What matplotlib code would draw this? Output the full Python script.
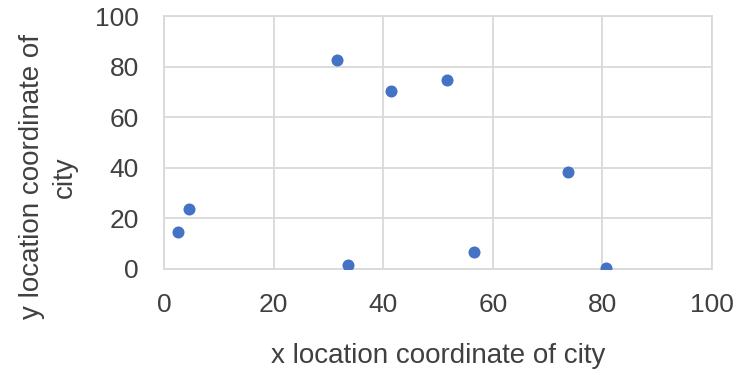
import matplotlib.pyplot as plt

# city coordinates
x_city = [2.6, 4.5, 31.6, 33.5, 41.5, 51.7, 56.5, 73.7, 80.6]
y_city = [14.8, 23.8, 82.7, 1.7, 70.3, 74.6, 6.6, 38.4, 0.5]
ticks = [0, 20, 40, 60, 80, 100]

plt.rcParams['font.family'] = ['Liberation Sans', 'DejaVu Sans']

fig = plt.figure(figsize=(7.4, 3.75), dpi=100)
ax = fig.add_axes([164 / 740, 1 - 269 / 375, 548 / 740, 253 / 375])

ax.scatter(x_city, y_city, s=75, color='#4472C4', zorder=3, linewidths=0)

ax.set_xlim(0, 100)
ax.set_ylim(0, 100)
ax.set_xticks(ticks)
ax.set_yticks(ticks)
ax.grid(True, color='#D9D9D9', linewidth=1.3)
for s in ax.spines.values():
    s.set_color('#D9D9D9')
    s.set_linewidth(1.3)
ax.tick_params(axis='y', length=0, labelsize=19, colors='#404040', pad=18)
ax.tick_params(axis='x', length=0, labelsize=19, colors='#404040', pad=17)

ax.set_xlabel('x location coordinate of city', fontsize=20, color='#404040', labelpad=19)
ax.set_ylabel('y location coordinate of\ncity', fontsize=20, color='#404040', linespacing=1.3)
ax.yaxis.set_label_coords(-0.158, 0.364)

fig.savefig('out.png', dpi=100)
